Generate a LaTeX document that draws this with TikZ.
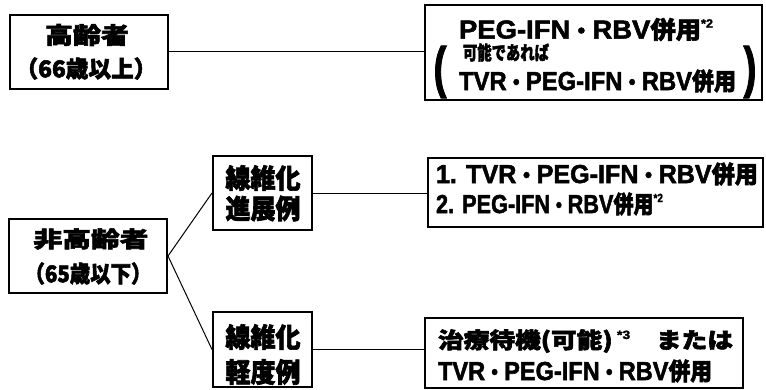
\documentclass[tikz,border=0pt]{standalone}
\usepackage{fontspec}
\usepackage{graphicx}
\setmainfont{Liberation Sans}[BoldFeatures={FakeBold=2}]
\newfontfamily\jp{Noto Sans CJK JP Bold}[FakeBold=2.4]
\newcommand\J[1]{{\jp #1}}
\newcommand\Js[1]{{\jp\fontsize{24}{24}\selectfont #1}}
\newcommand\dt{{\jp\fontsize{21}{21}\selectfont ・}}
\newcommand\sx[1]{\raisebox{0.42em}{\fontsize{12}{12}\selectfont\bfseries #1}}
\newcommand\fitw[3]{\resizebox{#1pt}{\height}{\fontsize{#2}{#2}\selectfont\bfseries #3}}
\begin{document}
\begin{tikzpicture}[x=1pt,y=-1pt,
  box/.style={draw, line width=2pt, rectangle, inner sep=0pt},
  conn/.style={line width=1pt},
  txt/.style={inner sep=0pt, outer sep=0pt}]
\fill[white] (0,0) rectangle (766,389);
\useasboundingbox (0,0) rectangle (766,389);
% boxes
\node[box, minimum width=158pt, minimum height=74pt] (b1) at (89,51.5) {};
\node[box, minimum width=337pt, minimum height=95pt] (b2) at (593.5,52.5) {};
\node[box, minimum width=158pt, minimum height=74pt] (b3) at (88,256) {};
\node[box, minimum width=99pt, minimum height=74pt] (b4) at (262.5,193) {};
\node[box, minimum width=99pt, minimum height=75pt] (b5) at (262.5,349.5) {};
\node[box, minimum width=335pt, minimum height=69pt] (b6) at (595.5,192.5) {};
\node[box, minimum width=318pt, minimum height=70pt] (b7) at (584,353) {};
% texts
\node[txt] (t1a) at (87,35) {\fitw{84}{23}{\J{高齢者}}};
\node[txt] (t1b) at (86,68.5) {\fitw{141}{23}{\J{（66歳以上）}}};
\node[txt] (t3a) at (91,239) {\fitw{115}{22}{\J{非高齢者}}};
\node[txt] (t3b) at (88,273.5) {\fitw{127}{23}{\J{（65歳以下）}}};
\node[txt] (t4a) at (263,178) {\fitw{75}{27}{\J{線維化}}};
\node[txt] (t4b) at (263,208.5) {\fitw{75}{27}{\J{進展例}}};
\node[txt] (t5a) at (263,337) {\fitw{75}{27}{\J{線維化}}};
\node[txt] (t5b) at (263,372) {\fitw{75}{27}{\J{軽度例}}};
\node[txt, anchor=west] (t2a) at (459,29.5) {\fitw{254}{26}{PEG-IFN\dt RBV\Js{併用}\sx{*2}}};
\node[txt, anchor=west] (t2b) at (463,52.5) {\fitw{86}{19}{\J{可能であれば}}};
\node[txt, anchor=west] (t2c) at (459,81) {\fitw{277}{26}{TVR\dt PEG-IFN\dt RBV\Js{併用}}};
\node[txt] (p1) at (440,72) {\resizebox{13pt}{\height}{\fontsize{56}{56}\selectfont\bfseries (}};
\node[txt] (p2) at (750,72) {\resizebox{13pt}{\height}{\fontsize{56}{56}\selectfont\bfseries )}};
\node[txt, anchor=west] (t6a) at (436,174) {\fitw{322}{26}{1. TVR\dt PEG-IFN\dt RBV\Js{併用}}};
\node[txt, anchor=west] (t6b) at (436,204) {\fitw{227}{26}{2. PEG-IFN\dt RBV\Js{併用}\sx{*2}}};
\node[txt, anchor=west] (t7a) at (438,341) {\fitw{295}{22}{\J{治療待機(可能)}\,\sx{*3}\quad\J{または}}};
\node[txt, anchor=west] (t7b) at (438,371) {\fitw{274}{26}{TVR\dt PEG-IFN\dt RBV\Js{併用}}};
% connectors
\draw[conn] (b1.east) -- (b1.east -| b2.west);
\draw[conn] (b3.east) -- (b4.west);
\draw[conn] (b3.east) -- (b5.west);
\draw[conn] (b4.east) -- (b4.east -| b6.west);
\draw[conn] (b5.east) -- (b5.east -| b7.west);
\end{tikzpicture}
\end{document}
